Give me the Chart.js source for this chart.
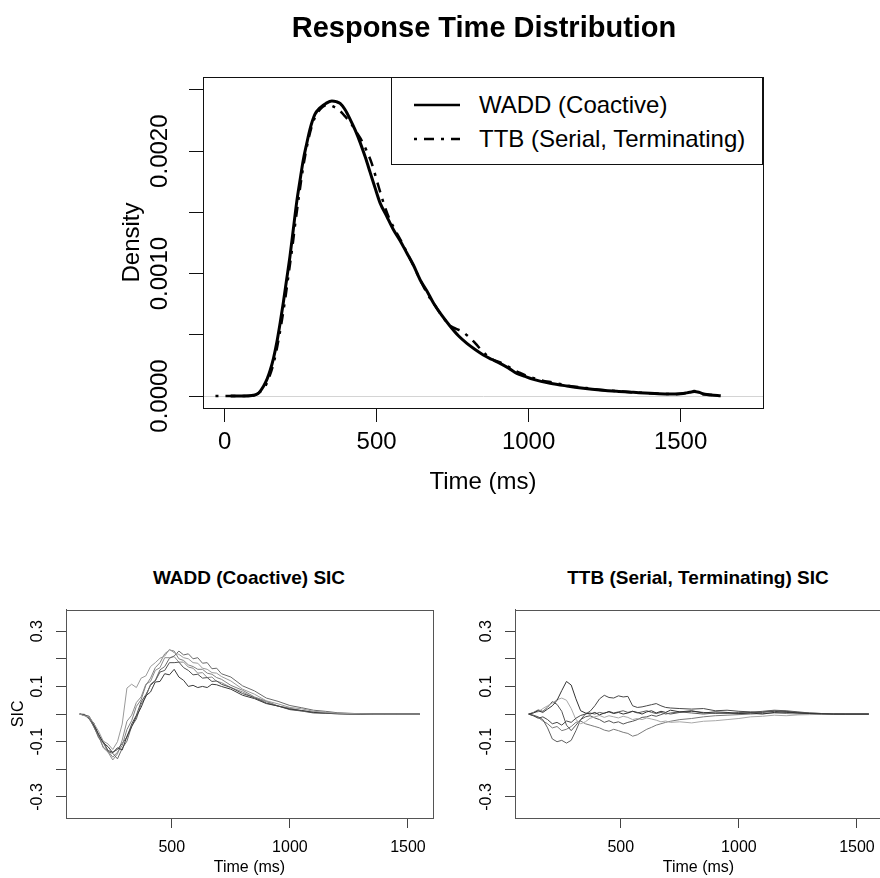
<!DOCTYPE html>
<html>
<head>
<meta charset="utf-8">
<script src="https://cdn.jsdelivr.net/npm/chart.js@4.4.1/dist/chart.umd.min.js"></script>
<style>
html, body { margin: 0; padding: 0; background: #fff; width: 880px; height: 878px; overflow: hidden; }
body { position: relative; font-family: "Liberation Sans", Arial, Helvetica, sans-serif; color: #000; }
canvas { position: absolute; display: block; }
.title { position: absolute; font-weight: bold; white-space: nowrap; line-height: 1; transform: translate(-50%, -50%); }
#legend { position: absolute; left: 391px; top: 77px; width: 372px; height: 88px; box-sizing: border-box; border: 1px solid #111; background: #fff; font-size: 24px; }
#legend span { position: absolute; left: 87px; line-height: 1; transform: translateY(-50%); white-space: nowrap; }
#legend svg { position: absolute; left: 22px; }
</style>
</head>
<body>
<canvas id="dens" width="880" height="500" style="left:0;top:0"></canvas>
<canvas id="sicWadd" width="449" height="283" style="left:0;top:595px"></canvas>
<canvas id="sicTtb" width="449" height="283" style="left:449px;top:595px"></canvas>

<div class="title" style="left:484px;top:27px;font-size:29px">Response Time Distribution</div>
<div class="title" style="left:249px;top:577px;font-size:19px">WADD (Coactive) SIC</div>
<div class="title" style="left:698px;top:577px;font-size:19px">TTB (Serial, Terminating) SIC</div>

<div id="legend">
  <svg width="46" height="6" style="top:24px"><line x1="0" y1="3" x2="46" y2="3" stroke="#000" stroke-width="2.5"/></svg>
  <span style="top:27px">WADD (Coactive)</span>
  <svg width="46" height="6" style="top:58px"><line x1="0" y1="3" x2="46" y2="3" stroke="#000" stroke-width="2.5" stroke-dasharray="3 7 10 7"/></svg>
  <span style="top:61px">TTB (Serial, Terminating)</span>
</div>

<script>
// ---- response time densities ----
var waddTime = [20, 60, 90, 110, 128, 140, 150, 161, 172, 183, 193, 204, 215, 226, 237, 248, 259, 270, 281, 297,
  314, 333, 353, 367, 380, 396, 413, 430, 446, 463, 479, 495, 511, 533, 555, 577, 599, 621, 643, 665,
  687, 714, 742, 770, 797, 824, 851, 878, 906, 933, 961, 988, 1016, 1071, 1126, 1180, 1235, 1290, 1345, 1400,
  1455, 1500, 1530, 1545, 1560, 1580, 1600, 1632]
var waddDensity = [0, 0, 0.000004, 0.00002, 0.00008, 0.00014, 0.00021, 0.00031, 0.00044, 0.0006, 0.00076, 0.00095, 0.00114, 0.00136, 0.00158, 0.00176, 0.00193, 0.00206, 0.00218, 0.0023,
  0.002355, 0.00239, 0.00241, 0.002405, 0.00239, 0.00234, 0.00226, 0.00217, 0.00207, 0.00195, 0.001825, 0.0017, 0.00158, 0.00147, 0.00136, 0.00127, 0.00117, 0.00107, 0.00095, 0.00086,
  0.00076, 0.00066, 0.00057, 0.00049, 0.00043, 0.00038, 0.000335, 0.0003, 0.000267, 0.00023, 0.000185, 0.00016, 0.000136, 0.000104, 0.000082, 0.000064, 0.000049, 0.000038, 0.00003, 0.000022,
  0.000016, 0.000018, 0.00003, 0.000036, 0.00003, 0.000014, 0.000008, 0.000002]

var ttbTime = [-30, 0, 40, 80, 100, 120, 134, 146, 157, 168, 179, 190, 201, 212, 223, 234, 245, 256, 267, 278,
  290, 305, 322, 340, 358, 376, 394, 412, 430, 448, 466, 484, 502, 520, 540, 560, 580, 600, 622, 645,
  668, 692, 716, 740, 760, 780, 800, 825, 850, 880, 910, 940, 970, 1000, 1040, 1080, 1130, 1180, 1240, 1300,
  1360, 1420, 1480, 1520, 1545, 1565, 1590, 1615]
var ttbDensity = [0, 0, 0, 0, 0.000008, 0.00004, 0.00008, 0.00015, 0.00023, 0.00034, 0.00048, 0.00064, 0.00082, 0.00102, 0.00122, 0.00144, 0.00164, 0.00183, 0.00199, 0.00212,
  0.00223, 0.00231, 0.00236, 0.00238, 0.002365, 0.00234, 0.00229, 0.00224, 0.00217, 0.0021, 0.00201, 0.0019, 0.00175, 0.0016, 0.00146, 0.00136, 0.00127, 0.00117, 0.00106, 0.00094,
  0.00083, 0.00074, 0.00065, 0.00058, 0.00055, 0.00053, 0.00049, 0.00043, 0.00036, 0.0003, 0.00027, 0.00023, 0.00019, 0.00016, 0.00013, 0.00011, 0.000085, 0.000068, 0.00005, 0.000038,
  0.000028, 0.00002, 0.000015, 0.000025, 0.00004, 0.00002, 0.000012, 0.000004]

var densTicksX = [0, 500, 1000, 1500]
var densTicksY = [0, 0.0005, 0.001, 0.0015, 0.002, 0.0025]

// ---- SIC curves, one time grid for all ----
var sicTimes = [110, 130, 150, 170, 190, 210, 230, 250, 270, 290, 310, 330, 350, 370, 390, 410, 430, 450, 470, 490,
  510, 530, 550, 570, 590, 610, 630, 650, 670, 690, 710, 750, 800, 850, 900, 950, 1000, 1050, 1100, 1150,
  1200, 1250, 1300, 1350, 1400, 1450, 1500, 1550]

var waddSic1 = [0, -0.006, -0.01, -0.034, -0.062, -0.098, -0.108, -0.128, -0.1, -0.036, 0.094,
  0.108, 0.096, 0.13, 0.138, 0.172, 0.186, 0.202, 0.21, 0.234, 0.222,
  0.216, 0.204, 0.2, 0.186, 0.184, 0.166, 0.162, 0.15, 0.148, 0.136,
  0.12, 0.09, 0.072, 0.048, 0.037, 0.024, 0.019, 0.01, 0.007, 0.003, 0.002, 0.001, 0, 0, 0, 0, 0]
var waddSic2 = [0, -0.004, -0.008, -0.04, -0.072, -0.104, -0.118, -0.14, -0.122, -0.13, -0.08,
  -0.046, -0.008, 0.024, 0.066, 0.08, 0.116, 0.118, 0.146, 0.142, 0.162,
  0.134, 0.122, 0.1, 0.104, 0.096, 0.1, 0.096, 0.108, 0.106, 0.1,
  0.09, 0.068, 0.056, 0.038, 0.029, 0.018, 0.013, 0.006, 0.004, 0.002, 0.001, 0, 0, 0, 0, 0, 0]
var waddSic3 = [0, -0.003, -0.018, -0.044, -0.086, -0.104, -0.136, -0.142, -0.162, -0.124, -0.098,
  -0.044, -0.018, 0.036, 0.062, 0.108, 0.122, 0.16, 0.172, 0.202, 0.21,
  0.228, 0.214, 0.218, 0.2, 0.204, 0.184, 0.186, 0.164, 0.166, 0.146,
  0.134, 0.102, 0.084, 0.058, 0.046, 0.031, 0.023, 0.014, 0.01, 0.005, 0.003, 0.001, 0, 0, 0, 0, 0]
var waddSic4 = [0, -0.005, -0.011, -0.046, -0.08, -0.12, -0.134, -0.156, -0.138, -0.114, -0.056,
  -0.024, 0.028, 0.052, 0.104, 0.13, 0.168, 0.186, 0.218, 0.232, 0.228,
  0.2, 0.194, 0.178, 0.172, 0.162, 0.162, 0.148, 0.144, 0.132, 0.126,
  0.104, 0.086, 0.062, 0.047, 0.029, 0.021, 0.011, 0.007, 0.003, 0.001, 0, 0, 0, 0, 0, 0, 0]
var waddSic5 = [0, -0.001, -0.014, -0.032, -0.078, -0.1, -0.132, -0.138, -0.128, -0.106, -0.084,
  -0.036, -0.004, 0.044, 0.07, 0.104, 0.12, 0.152, 0.158, 0.186, 0.186,
  0.188, 0.168, 0.158, 0.142, 0.144, 0.13, 0.132, 0.118, 0.12, 0.108,
  0.096, 0.074, 0.06, 0.04, 0.029, 0.016, 0.011, 0.004, 0.003, 0.001, 0, 0, 0, 0, 0, 0, 0]
var waddSic6 = [0, -0.004, -0.012, -0.048, -0.078, -0.122, -0.138, -0.166, -0.144, -0.094, -0.026,
  -0.004, 0.042, 0.062, 0.108, 0.118, 0.158, 0.168, 0.204, 0.204, 0.208,
  0.188, 0.188, 0.17, 0.166, 0.148, 0.15, 0.132, 0.134, 0.118, 0.114,
  0.096, 0.08, 0.058, 0.045, 0.029, 0.021, 0.012, 0.008, 0.003, 0.002, 0.001, 0, 0, 0, 0, 0, 0]

var ttbSic1 = [0, 0.004, 0.012, 0.006, 0.018, 0.03, 0.05, 0.085, 0.118, 0.105, 0.055,
  0.012, 0.004, 0.0, 0.006, -0.003, 0.004, 0.008, 0.002, 0.006, 0.0,
  0.004, 0.01, 0.006, 0.0, 0.008, 0.012, 0.004, 0.01, 0.006, 0.014,
  0.008, 0.012, 0.004, 0.008, 0.006, 0.002, 0.004, 0.0, 0.006, 0.008, 0.004, 0.002, 0.001, 0, 0, 0, 0]
var ttbSic2 = [0, -0.006, -0.015, -0.01, -0.02, -0.035, -0.03, -0.04, -0.025, -0.03, -0.015,
  -0.005, 0.0, 0.01, 0.03, 0.055, 0.068, 0.06, 0.058, 0.066, 0.062,
  0.064, 0.03, 0.024, 0.026, 0.03, 0.034, 0.038, 0.03, 0.024, 0.022,
  0.02, 0.018, 0.02, 0.012, 0.014, 0.01, 0.008, 0.006, 0.01, 0.006, 0.004, 0.002, 0.001, 0, 0, 0, 0]
var ttbSic3 = [0, 0.005, 0.008, 0.02, 0.03, 0.04, 0.052, 0.058, 0.05, 0.02, -0.02,
  -0.035, -0.028, -0.015, -0.01, -0.005, -0.012, -0.006, -0.01, -0.014, -0.008,
  -0.012, -0.02, -0.016, -0.02, -0.014, -0.018, -0.022, -0.028, -0.025, -0.03,
  -0.028, -0.032, -0.026, -0.024, -0.02, -0.016, -0.01, -0.008, -0.004, -0.006, -0.003, -0.002, -0.001, 0, 0, 0, 0]
var ttbSic4 = [0, -0.004, -0.01, -0.02, -0.05, -0.09, -0.1, -0.095, -0.105, -0.095, -0.06,
  -0.02, 0.0, 0.004, 0.0, 0.006, 0.002, 0.01, 0.004, 0.008, 0.012,
  0.006, 0.01, 0.004, 0.008, 0.012, 0.006, 0.002, 0.006, 0.0, 0.004,
  0.008, 0.004, 0.0, 0.004, 0.002, 0.006, 0.004, 0.008, 0.012, 0.01, 0.006, 0.004, 0.002, 0.001, 0, 0, 0]
var ttbSic5 = [0, -0.006, -0.012, -0.025, -0.035, -0.05, -0.045, -0.06, -0.055, -0.045, -0.03,
  -0.025, -0.035, -0.04, -0.045, -0.05, -0.058, -0.062, -0.055, -0.06, -0.066,
  -0.07, -0.08, -0.075, -0.065, -0.055, -0.048, -0.04, -0.035, -0.03, -0.026,
  -0.02, -0.016, -0.01, -0.006, -0.004, -0.002, 0.0, 0.002, 0.004, 0.002, 0.0, 0.001, 0, 0, 0, 0, 0]
var ttbSic6 = [0, 0.006, 0.015, 0.01, 0.025, 0.045, 0.035, 0.01, -0.04, -0.06, -0.04,
  -0.02, -0.01, -0.006, -0.014, -0.02, -0.03, -0.024, -0.032, -0.028, -0.036,
  -0.03, -0.026, -0.02, -0.012, -0.01, -0.004, -0.008, -0.002, 0.004, 0.0,
  0.006, 0.01, 0.006, 0.002, 0.004, 0.0, 0.006, 0.01, 0.014, 0.012, 0.008, 0.004, 0.002, 0.001, 0, 0, 0]

var sicGreys = ['#9a9a9a', '#3a3a3a', '#6a6a6a', '#808080', '#505050', '#8c8c8c']
var ttbGreys = ['#333333', '#484848', '#a8a8a8', '#5e5e5e', '#7a7a7a', '#555555']
var sicTicksX = [500, 1000, 1500]
var sicTicksY = [-0.3, -0.2, -0.1, 0, 0.1, 0.2, 0.3]

Chart.defaults.font.family = '"Liberation Sans", Arial, Helvetica, sans-serif'
Chart.defaults.color = '#000'

function pairs(xs, ys) {
  return xs.map(function (x, i) { return {x: x, y: ys[i]} })
}
function fixedTicks(list) {
  return function (s) { s.ticks = list.map(function (v) { return {value: v} }) }
}

// R style box round the plot region
var boxPlugin = {
  id: 'box',
  afterDraw: function (chart, args, opts) {
    var a = chart.chartArea, ctx = chart.ctx
    ctx.save()
    ctx.strokeStyle = opts.color || '#000'
    ctx.lineWidth = 1
    ctx.strokeRect(Math.round(a.left) + 0.5, Math.round(a.top) + 0.5, Math.round(a.right - a.left), Math.round(a.bottom - a.top))
    ctx.restore()
  }
}

// top: density plot
new Chart(document.getElementById('dens'), {
  type: 'line',
  data: {
    datasets: [
      {label: 'WADD (Coactive)', data: pairs(waddTime, waddDensity), borderColor: '#000', borderWidth: 3},
      {label: 'TTB (Serial, Terminating)', data: pairs(ttbTime, ttbDensity), borderColor: '#000', borderWidth: 2.5, borderDash: [3, 7, 10, 7]}
    ]
  },
  plugins: [boxPlugin],
  options: {
    responsive: false, animation: false, events: [],
    layout: {padding: {top: 77, right: 117, left: 0, bottom: 0}},
    elements: {point: {radius: 0}, line: {cubicInterpolationMode: 'monotone', fill: false}},
    plugins: {legend: {display: false}, tooltip: {enabled: false}, box: {color: '#111'}},
    scales: {
      x: {
        type: 'linear', min: -71, max: 1771,
        afterFit: function (s) { s.height = 92 },
        afterBuildTicks: fixedTicks(densTicksX),
        ticks: {autoSkip: false, maxRotation: 0, padding: 6, font: {size: 24}, color: '#000',
          callback: function (v) { return String(v) }},
        grid: {drawOnChartArea: false, drawTicks: true, tickLength: 14, color: '#111', tickColor: '#111'},
        border: {display: true, color: '#111'},
        title: {display: true, text: 'Time (ms)', font: {size: 24}, padding: {top: 0, bottom: 3}}
      },
      y: {
        type: 'linear', min: -0.000098, max: 0.002606,
        afterFit: function (s) { s.width = 203 },
        afterBuildTicks: fixedTicks(densTicksY),
        ticks: {
          autoSkip: false, minRotation: 90, maxRotation: 90, crossAlign: 'center', padding: -8, font: {size: 24}, color: '#000',
          callback: function (v) { var k = Math.round(v * 10000); return k % 10 === 0 ? (k / 10000).toFixed(4) : '' }
        },
        grid: {
          drawOnChartArea: true, drawTicks: true, tickLength: 14, tickColor: '#111', lineWidth: 1,
          color: function (c) { return c.tick && c.tick.value === 0 ? '#d4d4d4' : 'rgba(0,0,0,0)' }
        },
        border: {display: true, color: '#111'},
        title: {display: true, text: 'Density', font: {size: 24}, padding: {top: 118, bottom: 0}}
      }
    }
  }
})

// bottom: SIC panels
function sicChart(id, series, greys, yTitle) {
  return new Chart(document.getElementById(id), {
    type: 'line',
    data: {
      datasets: series.map(function (vals, i) {
        return {data: pairs(sicTimes, vals), borderColor: greys[i], borderWidth: 1}
      })
    },
    plugins: [boxPlugin],
    options: {
      responsive: false, animation: false, events: [],
      layout: {padding: {top: 6, right: 16, left: 0, bottom: 0}},
      elements: {point: {radius: 0}, line: {tension: 0, fill: false}},
      plugins: {legend: {display: false}, tooltip: {enabled: false}, box: {color: '#555'}},
      scales: {
        x: {
          type: 'linear', min: 52, max: 1606,
          afterFit: function (s) { s.height = 60 },
          afterBuildTicks: fixedTicks(sicTicksX),
          ticks: {autoSkip: false, maxRotation: 0, padding: 10, font: {size: 16}, color: '#000',
            callback: function (v) { return String(v) }},
          grid: {drawOnChartArea: false, drawTicks: true, tickLength: 10, color: '#444', tickColor: '#444'},
          border: {display: true, color: '#555'},
          title: {display: true, text: 'Time (ms)', font: {size: 16}, padding: {top: 0, bottom: 1}}
        },
        y: {
          type: 'linear', min: -0.376, max: 0.378,
          afterFit: function (s) { s.width = 66 },
          afterBuildTicks: fixedTicks(sicTicksY),
          ticks: {
            autoSkip: false, minRotation: 90, maxRotation: 90, crossAlign: 'center', padding: 5, font: {size: 16}, color: '#000',
            callback: function (v) { var k = Math.round(v * 10); return k % 2 !== 0 ? (k / 10).toFixed(1) : '' }
          },
          grid: {drawOnChartArea: false, drawTicks: true, tickLength: 10, color: '#444', tickColor: '#444'},
          border: {display: true, color: '#555'},
          title: {display: !!yTitle, text: yTitle || '', font: {size: 16}, padding: {top: 9, bottom: 0}}
        }
      }
    }
  })
}

sicChart('sicWadd', [waddSic1, waddSic2, waddSic3, waddSic4, waddSic5, waddSic6], sicGreys, 'SIC')
sicChart('sicTtb', [ttbSic1, ttbSic2, ttbSic3, ttbSic4, ttbSic5, ttbSic6], ttbGreys, '')
</script>
</body>
</html>
